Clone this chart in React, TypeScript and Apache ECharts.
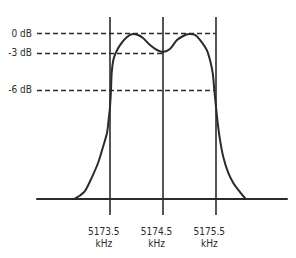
import React, { useEffect, useRef } from "react";
import * as echarts from "echarts";

// Frequency (kHz) and relative response (0 dB = 1.0, baseline = 0)
const freq = [
  5172.84, 5172.935, 5173.03, 5173.163, 5173.277, 5173.371, 5173.447, 5173.472,
  5173.504, 5173.523, 5173.536, 5173.567, 5173.612, 5173.694, 5173.826, 5173.94,
  5174.035, 5174.13, 5174.263, 5174.395, 5174.51, 5174.64, 5174.775, 5174.93,
  5175.02, 5175.116, 5175.21, 5175.338, 5175.4, 5175.451, 5175.482, 5175.514,
  5175.546, 5175.59, 5175.652, 5175.747, 5175.842, 5175.969, 5176.07,
];
const response = [
  0, 0.018, 0.045, 0.13, 0.215, 0.312, 0.397, 0.458,
  0.555, 0.658, 0.761, 0.839, 0.882, 0.93, 0.979, 0.997,
  0.991, 0.973, 0.93, 0.9, 0.888, 0.906, 0.961, 0.991,
  0.997, 0.991, 0.961, 0.9, 0.839, 0.761, 0.658, 0.555,
  0.458, 0.355, 0.252, 0.155, 0.094, 0.039, 0,
];

const xTickValues = [5173.5, 5174.5, 5175.5];
const xTickLabels = ["5173.5", "5174.5", "5175.5"];
const xUnit = "kHz";

const yTickValues = [1.0, 0.882, 0.658];
const yTickLabels = ["0 dB", "-3 dB", "-6 dB"];
// where each dashed reference line ends (frequency)
const yRefEnds = [5175.5, 5174.5, 5175.5];

const X_MIN = 5172.12;
const X_MAX = 5176.86;
const INK = "#2b2b2b";
const FONT = "DejaVu Sans Condensed";

export default function App() {
  const ref = useRef<HTMLDivElement>(null);
  useEffect(() => {
    if (!ref.current) return;
    const chart = echarts.init(ref.current, null, { renderer: "svg" });
    const dashed = yTickValues.map((v, i) => [
      { coord: [X_MIN, v], lineStyle: { type: [5, 3], width: 1.3, color: INK } },
      { coord: [yRefEnds[i], v] },
    ]);
    const verticals = xTickValues.map((v) => ({
      xAxis: v,
      lineStyle: { type: "solid", width: 1.6, color: INK },
    }));
    chart.setOption({
      animation: false,
      backgroundColor: "#ffffff",
      grid: { left: 37, right: 9, top: 17, bottom: 43, outerBoundsMode: "none", containLabel: false },
      xAxis: {
        type: "value",
        min: X_MIN,
        max: X_MAX,
        axisLine: { show: true, onZero: true, lineStyle: { color: INK, width: 2 } },
        axisTick: { show: false },
        splitLine: { show: false },
        axisLabel: {
          customValues: xTickValues,
          formatter: (v: number) => {
            const i = xTickValues.findIndex((t) => Math.abs(t - v) < 1e-6);
            return (i >= 0 ? xTickLabels[i] : "") + "\n" + xUnit;
          },
          margin: 10,
          fontFamily: FONT,
          fontSize: 10,
          lineHeight: 12,
          color: INK,
          padding: [0, 12, 0, 0],
        },
      },
      yAxis: {
        type: "value",
        min: -0.1,
        max: 1.1,
        axisLine: { show: false },
        axisTick: { show: false },
        splitLine: { show: false },
        axisLabel: {
          customValues: yTickValues,
          formatter: (v: number) => {
            const i = yTickValues.findIndex((t) => Math.abs(t - v) < 1e-6);
            return i >= 0 ? yTickLabels[i] : "";
          },
          margin: 5,
          fontFamily: FONT,
          fontSize: 10,
          color: INK,
        },
      },
      series: [
        {
          type: "line",
          data: freq.map((f, i) => [f, response[i]]),
          showSymbol: false,
          smooth: 0.3,
          lineStyle: { color: INK, width: 2 },
          silent: true,
          markLine: {
            silent: true,
            symbol: "none",
            label: { show: false },
            data: [...verticals, ...dashed],
          },
        },
      ],
    });
    return () => chart.dispose();
  }, []);
  return (
    <div
      ref={ref}
      style={{ position: "fixed", left: 0, top: 0, width: 296, height: 258 }}
    />
  );
}
